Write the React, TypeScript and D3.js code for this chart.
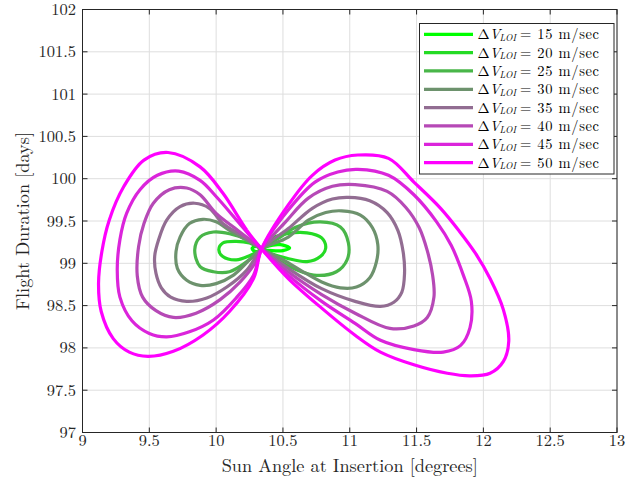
import React from 'react';
import * as d3 from 'd3';

type P = [number, number];

const xTicks = [9, 9.5, 10, 10.5, 11, 11.5, 12, 12.5, 13];
const yTicks = [97, 97.5, 98, 98.5, 99, 99.5, 100, 100.5, 101, 101.5, 102];
const deltaV = [15, 20, 25, 30, 35, 40, 45, 50];
const center: P = [10.34, 99.17];

const curve15Left: P[] = [[10.31, 99.2], [10.27, 99.18], [10.28, 99.15], [10.31, 99.14]];
const curve15Right: P[] = [[10.38, 99.2], [10.48, 99.22], [10.55, 99.18], [10.5, 99.15], [10.42, 99.15]];

const curve20Left: P[] = [[10.25, 99.24], [10.15, 99.26], [10.05, 99.24], [10.02, 99.16], [10.05, 99.08], [10.15, 99.04], [10.25, 99.09]];
const curve20Right: P[] = [[10.4, 99.28], [10.53, 99.35], [10.68, 99.36], [10.79, 99.3], [10.82, 99.18], [10.78, 99.08], [10.68, 99.02], [10.53, 99.06], [10.42, 99.11]];

const curve25Left: P[] = [[10.23, 99.28], [10.1, 99.35], [9.98, 99.37], [9.88, 99.31], [9.84, 99.16], [9.88, 98.96], [9.98, 98.9], [10.1, 98.9], [10.23, 99.02]];
const curve25Right: P[] = [[10.48, 99.31], [10.6, 99.43], [10.78, 99.49], [10.93, 99.43], [10.99, 99.24], [10.98, 99.04], [10.9, 98.9], [10.73, 98.86], [10.55, 98.96], [10.44, 99.06]];

const curve30Left: P[] = [[10.22, 99.28], [10.1, 99.39], [10.0, 99.49], [9.9, 99.52], [9.8, 99.47], [9.73, 99.31], [9.7, 99.14], [9.71, 98.94], [9.78, 98.8], [9.88, 98.74], [10.0, 98.76], [10.13, 98.86], [10.25, 99.04]];
const curve30Right: P[] = [[10.54, 99.31], [10.69, 99.51], [10.82, 99.6], [10.94, 99.62], [11.08, 99.57], [11.17, 99.42], [11.21, 99.22], [11.2, 99.02], [11.15, 98.83], [11.05, 98.72], [10.93, 98.71], [10.79, 98.78], [10.63, 98.92], [10.48, 99.06]];

const curve35Left: P[] = [[10.2, 99.32], [10.05, 99.47], [9.95, 99.65], [9.84, 99.71], [9.73, 99.67], [9.63, 99.51], [9.57, 99.28], [9.54, 99.08], [9.55, 98.88], [9.59, 98.71], [9.66, 98.6], [9.78, 98.55], [9.93, 98.59], [10.08, 98.72], [10.23, 98.92]];
const curve35Right: P[] = [[10.54, 99.41], [10.72, 99.65], [10.87, 99.76], [10.99, 99.78], [11.15, 99.74], [11.28, 99.6], [11.36, 99.39], [11.4, 99.13], [11.41, 98.88], [11.39, 98.66], [11.33, 98.54], [11.23, 98.49], [11.04, 98.55], [10.79, 98.7], [10.54, 98.94]];

const curve40Left: P[] = [[10.17, 99.38], [10.0, 99.59], [9.88, 99.81], [9.78, 99.89], [9.65, 99.87], [9.53, 99.71], [9.46, 99.47], [9.42, 99.2], [9.41, 98.85], [9.45, 98.6], [9.55, 98.44], [9.68, 98.36], [9.85, 98.41], [10.03, 98.57], [10.18, 98.78], [10.29, 99.0]];
const curve40Right: P[] = [[10.52, 99.49], [10.69, 99.77], [10.87, 99.91], [11.04, 99.93], [11.28, 99.85], [11.42, 99.66], [11.52, 99.42], [11.58, 99.15], [11.62, 98.86], [11.63, 98.6], [11.58, 98.36], [11.48, 98.26], [11.3, 98.23], [11.04, 98.41], [10.79, 98.63], [10.54, 98.9]];

const curve45Left: P[] = [[10.17, 99.48], [10.0, 99.79], [9.88, 99.98], [9.72, 100.09], [9.56, 100.04], [9.43, 99.87], [9.33, 99.59], [9.28, 99.28], [9.26, 98.92], [9.28, 98.6], [9.37, 98.32], [9.5, 98.17], [9.63, 98.13], [9.8, 98.19], [9.98, 98.33], [10.15, 98.59], [10.28, 98.86]];
const curve45Right: P[] = [[10.54, 99.63], [10.74, 99.96], [10.91, 100.08], [11.06, 100.11], [11.29, 100.04], [11.48, 99.81], [11.65, 99.49], [11.76, 99.21], [11.85, 98.86], [11.91, 98.55], [11.9, 98.24], [11.83, 98.03], [11.7, 97.95], [11.48, 97.98], [11.23, 98.09], [11.04, 98.29], [10.79, 98.55], [10.54, 98.86]];

const curve50Left: P[] = [[10.23, 99.39], [10.05, 99.83], [9.88, 100.14], [9.64, 100.31], [9.46, 100.22], [9.31, 99.91], [9.2, 99.51], [9.145, 99.14], [9.12, 98.76], [9.14, 98.43], [9.23, 98.11], [9.35, 97.95], [9.49, 97.9], [9.68, 97.96], [9.9, 98.15], [10.1, 98.43], [10.28, 98.82]];
const curve50Right: P[] = [[10.54, 99.69], [10.72, 100.04], [10.89, 100.22], [11.06, 100.28], [11.29, 100.24], [11.48, 99.96], [11.68, 99.65], [11.82, 99.38], [11.94, 99.12], [12.05, 98.82], [12.15, 98.45], [12.19, 98.08], [12.15, 97.84], [12.05, 97.7], [11.9, 97.67], [11.73, 97.7], [11.48, 97.8], [11.23, 97.95], [11.04, 98.15], [10.79, 98.47], [10.54, 98.82]];

const lobes: [P[], P[]][] = [
  [curve15Left, curve15Right],
  [curve20Left, curve20Right],
  [curve25Left, curve25Right],
  [curve30Left, curve30Right],
  [curve35Left, curve35Right],
  [curve40Left, curve40Right],
  [curve45Left, curve45Right],
  [curve50Left, curve50Right],
];

const W = 626;
const H = 487;
const FONT = "'Latin Modern Roman', 'CMU Serif', 'Liberation Serif', serif";
const AX = '#262626';

export default function App() {
  const x = d3.scaleLinear().domain([9, 13]).range([82.5, 617]);
  const y = d3.scaleLinear().domain([97, 102]).range([432.5, 9.5]);
  const [x0, x1] = x.range();
  const [y0, y1] = [y(102), y(97)];
  const line = d3
    .line<P>()
    .x((d) => x(d[0]))
    .y((d) => y(d[1]))
    .curve(d3.curveCatmullRomClosed.alpha(0.5));
  const color = (i: number) => d3.interpolateRgb('#00ff00', '#ff00ff')(i / (deltaV.length - 1));

  const legX = 419.5, legY = 23.5, legW = 194.5, legH = 150.5;
  const rowH = 18.33;

  return (
    <svg width={W} height={H} style={{ position: 'absolute', left: 0, top: 0, background: '#fff' }} fontFamily={FONT}>
      <rect x={0} y={0} width={W} height={H} fill="#fff" />
      {xTicks.map((t) => (
        <line key={'gx' + t} x1={x(t)} x2={x(t)} y1={y0} y2={y1} stroke="#dedede" strokeWidth={1} />
      ))}
      {yTicks.map((t) => (
        <line key={'gy' + t} x1={x0} x2={x1} y1={y(t)} y2={y(t)} stroke="#dedede" strokeWidth={1} />
      ))}
      {lobes.map(([l, r], i) => (
        <path key={'c' + i} d={line([center, ...l, center, ...r]) || ''} fill="none" stroke={color(i)} strokeWidth={3.2} />
      ))}
      <rect x={x0} y={y0} width={x1 - x0} height={y1 - y0} fill="none" stroke={AX} strokeWidth={1} />
      {xTicks.map((t) => (
        <g key={'tx' + t}>
          <line x1={x(t)} x2={x(t)} y1={y1} y2={y1 - 5} stroke={AX} />
          <line x1={x(t)} x2={x(t)} y1={y0} y2={y0 + 5} stroke={AX} />
          <text x={x(t)} y={446} textAnchor="middle" fontSize={16.5} fill={AX}>
            {String(t)}
          </text>
        </g>
      ))}
      {yTicks.map((t) => (
        <g key={'ty' + t}>
          <line x1={x0} x2={x0 + 5} y1={y(t)} y2={y(t)} stroke={AX} />
          <line x1={x1} x2={x1 - 5} y1={y(t)} y2={y(t)} stroke={AX} />
          <text x={76} y={y(t) + 5.5} textAnchor="end" fontSize={16.5} fill={AX}>
            {String(t)}
          </text>
        </g>
      ))}
      <text x={(x0 + x1) / 2} y={471.5} textAnchor="middle" fontSize={18.3} fill={AX}>
        Sun Angle at Insertion [degrees]
      </text>
      <text transform={`translate(29, ${(y0 + y1) / 2}) rotate(-90)`} textAnchor="middle" fontSize={18.3} fill={AX}>
        Flight Duration [days]
      </text>
      <rect x={legX} y={legY} width={legW} height={legH} fill="#fff" stroke={AX} strokeWidth={1} />
      {deltaV.map((v, i) => {
        const cy = 34.3 + i * rowH;
        return (
          <g key={'lg' + v}>
            <line x1={424} x2={473} y1={cy} y2={cy} stroke={color(i)} strokeWidth={3.2} />
            <text x={477.5} y={cy + 5} fontSize={14.5} fill="#000">
              Δ<tspan fontStyle="italic">V</tspan>
            </text>
            <text x={499.5} y={cy + 6.8} fontSize={9} fontStyle="italic" fill="#000" textLength={16.5} lengthAdjust="spacingAndGlyphs">
              LOI
            </text>
            <text x={520} y={cy + 5} fontSize={14.5} fill="#000" textLength={79} lengthAdjust="spacing">
              {`= ${v} m/sec`}
            </text>
          </g>
        );
      })}
    </svg>
  );
}
